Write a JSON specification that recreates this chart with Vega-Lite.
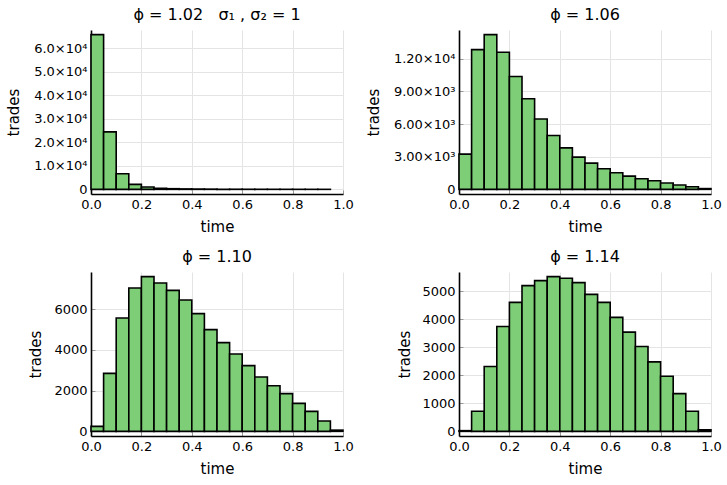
{
  "$schema": "https://vega.github.io/schema/vega-lite/v6.json",
  "autosize": "none",
  "padding": {"left": 91, "top": 30, "right": 636, "bottom": 455},
  "background": "white",
  "datasets": {
    "p1": [
      {"t0": 0.00, "t1": 0.05, "n": 65700},
      {"t0": 0.05, "t1": 0.10, "n": 24400},
      {"t0": 0.10, "t1": 0.15, "n": 6650},
      {"t0": 0.15, "t1": 0.20, "n": 2100},
      {"t0": 0.20, "t1": 0.25, "n": 980},
      {"t0": 0.25, "t1": 0.30, "n": 450},
      {"t0": 0.30, "t1": 0.35, "n": 280},
      {"t0": 0.35, "t1": 0.40, "n": 190},
      {"t0": 0.40, "t1": 0.45, "n": 140},
      {"t0": 0.45, "t1": 0.50, "n": 100},
      {"t0": 0.50, "t1": 0.55, "n": 75},
      {"t0": 0.55, "t1": 0.60, "n": 55},
      {"t0": 0.60, "t1": 0.65, "n": 42},
      {"t0": 0.65, "t1": 0.70, "n": 32},
      {"t0": 0.70, "t1": 0.75, "n": 24},
      {"t0": 0.75, "t1": 0.80, "n": 18},
      {"t0": 0.80, "t1": 0.85, "n": 13},
      {"t0": 0.85, "t1": 0.90, "n": 9},
      {"t0": 0.90, "t1": 0.95, "n": 6}
    ],
    "p2": [
      {"t0": 0.00, "t1": 0.05, "n": 3237},
      {"t0": 0.05, "t1": 0.10, "n": 12855},
      {"t0": 0.10, "t1": 0.15, "n": 14229},
      {"t0": 0.15, "t1": 0.20, "n": 12611},
      {"t0": 0.20, "t1": 0.25, "n": 10382},
      {"t0": 0.25, "t1": 0.30, "n": 8336},
      {"t0": 0.30, "t1": 0.35, "n": 6473},
      {"t0": 0.35, "t1": 0.40, "n": 4947},
      {"t0": 0.40, "t1": 0.45, "n": 3817},
      {"t0": 0.45, "t1": 0.50, "n": 2962},
      {"t0": 0.50, "t1": 0.55, "n": 2412},
      {"t0": 0.55, "t1": 0.60, "n": 1893},
      {"t0": 0.60, "t1": 0.65, "n": 1527},
      {"t0": 0.65, "t1": 0.70, "n": 1221},
      {"t0": 0.70, "t1": 0.75, "n": 977},
      {"t0": 0.75, "t1": 0.80, "n": 794},
      {"t0": 0.80, "t1": 0.85, "n": 580},
      {"t0": 0.85, "t1": 0.90, "n": 397},
      {"t0": 0.90, "t1": 0.95, "n": 244},
      {"t0": 0.95, "t1": 1.00, "n": 70}
    ],
    "p3": [
      {"t0": 0.00, "t1": 0.05, "n": 245},
      {"t0": 0.05, "t1": 0.10, "n": 2845},
      {"t0": 0.10, "t1": 0.15, "n": 5560},
      {"t0": 0.15, "t1": 0.20, "n": 7032},
      {"t0": 0.20, "t1": 0.25, "n": 7588},
      {"t0": 0.25, "t1": 0.30, "n": 7277},
      {"t0": 0.30, "t1": 0.35, "n": 6917},
      {"t0": 0.35, "t1": 0.40, "n": 6443},
      {"t0": 0.40, "t1": 0.45, "n": 5772},
      {"t0": 0.45, "t1": 0.50, "n": 4988},
      {"t0": 0.50, "t1": 0.55, "n": 4350},
      {"t0": 0.55, "t1": 0.60, "n": 3794},
      {"t0": 0.60, "t1": 0.65, "n": 3222},
      {"t0": 0.65, "t1": 0.70, "n": 2666},
      {"t0": 0.70, "t1": 0.75, "n": 2240},
      {"t0": 0.75, "t1": 0.80, "n": 1848},
      {"t0": 0.80, "t1": 0.85, "n": 1374},
      {"t0": 0.85, "t1": 0.90, "n": 981},
      {"t0": 0.90, "t1": 0.95, "n": 507},
      {"t0": 0.95, "t1": 1.00, "n": 60}
    ],
    "p4": [
      {"t0": 0.00, "t1": 0.05, "n": 25},
      {"t0": 0.05, "t1": 0.10, "n": 714},
      {"t0": 0.10, "t1": 0.15, "n": 2310},
      {"t0": 0.15, "t1": 0.20, "n": 3738},
      {"t0": 0.20, "t1": 0.25, "n": 4595},
      {"t0": 0.25, "t1": 0.30, "n": 5190},
      {"t0": 0.30, "t1": 0.35, "n": 5369},
      {"t0": 0.35, "t1": 0.40, "n": 5512},
      {"t0": 0.40, "t1": 0.45, "n": 5452},
      {"t0": 0.45, "t1": 0.50, "n": 5298},
      {"t0": 0.50, "t1": 0.55, "n": 4881},
      {"t0": 0.55, "t1": 0.60, "n": 4595},
      {"t0": 0.60, "t1": 0.65, "n": 4060},
      {"t0": 0.65, "t1": 0.70, "n": 3536},
      {"t0": 0.70, "t1": 0.75, "n": 3024},
      {"t0": 0.75, "t1": 0.80, "n": 2476},
      {"t0": 0.80, "t1": 0.85, "n": 1964},
      {"t0": 0.85, "t1": 0.90, "n": 1345},
      {"t0": 0.90, "t1": 0.95, "n": 714},
      {"t0": 0.95, "t1": 1.00, "n": 60}
    ]
  },
  "columns": 2,
  "bounds": "flush",
  "spacing": {"row": 78, "column": 116},
  "concat": [
    {
      "data": {"name": "p1"},
      "title": {"text": "ϕ = 1.02\u00a0\u00a0\u00a0σ₁ , σ₂ = 1"},
      "width": 252,
      "height": 164,
      "mark": {"type": "bar", "fill": "#7dce76", "stroke": "#000", "strokeWidth": 1.6},
      "encoding": {
        "x": {"field": "t0", "type": "quantitative", "scale": {"domain": [0, 1], "nice": false},
              "axis": {"values": [0, 0.2, 0.4, 0.6, 0.8, 1.0], "format": ".1f", "title": "time", "titleY": 32}},
        "x2": {"field": "t1"},
        "y": {"field": "n", "type": "quantitative", "scale": {"domain": [-1971, 67671], "nice": false, "zero": false},
              "axis": {"values": [0, 10000, 20000, 30000, 40000, 50000, 60000], "title": "trades", "titleX": -78,
                       "labelExpr": "datum.value == 0 ? '0' : format(datum.value / 10000, '.1f') + '×10⁴'"}},
        "y2": {"datum": 0}
      }
    },
    {
      "data": {"name": "p2"},
      "title": {"text": "ϕ = 1.06"},
      "width": 252,
      "height": 164,
      "mark": {"type": "bar", "fill": "#7dce76", "stroke": "#000", "strokeWidth": 1.6},
      "encoding": {
        "x": {"field": "t0", "type": "quantitative", "scale": {"domain": [0, 1], "nice": false},
              "axis": {"values": [0, 0.2, 0.4, 0.6, 0.8, 1.0], "format": ".1f", "title": "time", "titleY": 32}},
        "x2": {"field": "t1"},
        "y": {"field": "n", "type": "quantitative", "scale": {"domain": [-427, 14656], "nice": false, "zero": false},
              "axis": {"values": [0, 3000, 6000, 9000, 12000], "title": "trades", "titleX": -86,
                       "labelExpr": "datum.value == 0 ? '0' : (datum.value >= 10000 ? format(datum.value / 10000, '.2f') + '×10⁴' : format(datum.value / 1000, '.2f') + '×10³')"}},
        "y2": {"datum": 0}
      }
    },
    {
      "data": {"name": "p3"},
      "title": {"text": "ϕ = 1.10"},
      "width": 252,
      "height": 164,
      "mark": {"type": "bar", "fill": "#7dce76", "stroke": "#000", "strokeWidth": 1.6},
      "encoding": {
        "x": {"field": "t0", "type": "quantitative", "scale": {"domain": [0, 1], "nice": false},
              "axis": {"values": [0, 0.2, 0.4, 0.6, 0.8, 1.0], "format": ".1f", "title": "time", "titleY": 32}},
        "x2": {"field": "t1"},
        "y": {"field": "n", "type": "quantitative", "scale": {"domain": [-228, 7816], "nice": false, "zero": false},
              "axis": {"values": [0, 2000, 4000, 6000], "format": "d", "title": "trades", "titleX": -56}},
        "y2": {"datum": 0}
      }
    },
    {
      "data": {"name": "p4"},
      "title": {"text": "ϕ = 1.14"},
      "width": 252,
      "height": 164,
      "mark": {"type": "bar", "fill": "#7dce76", "stroke": "#000", "strokeWidth": 1.6},
      "encoding": {
        "x": {"field": "t0", "type": "quantitative", "scale": {"domain": [0, 1], "nice": false},
              "axis": {"values": [0, 0.2, 0.4, 0.6, 0.8, 1.0], "format": ".1f", "title": "time", "titleY": 32}},
        "x2": {"field": "t1"},
        "y": {"field": "n", "type": "quantitative", "scale": {"domain": [-165, 5677], "nice": false, "zero": false},
              "axis": {"values": [0, 1000, 2000, 3000, 4000, 5000], "format": "d", "title": "trades", "titleX": -55}},
        "y2": {"datum": 0}
      }
    }
  ],
  "config": {
    "view": {"stroke": null},
    "axis": {
      "domainColor": "#000",
      "domainWidth": 1.6,
      "gridColor": "#e4e4e4",
      "gridWidth": 1,
      "tickColor": "#999",
      "tickSize": -4,
      "labelFont": "DejaVu Sans",
      "labelFontSize": 13,
      "labelColor": "#000",
      "labelFlush": false,
      "labelOverlap": false,
      "labelPadding": 8,
      "titleFont": "DejaVu Sans",
      "titleFontSize": 15,
      "titleFontWeight": "normal",
      "titleColor": "#000"
    },
    "axisY": {"titleY": 82, "titleBaseline": "middle", "titleAlign": "center", "titleAngle": 270},
    "axisX": {"titleBaseline": "middle"},
    "title": {"font": "DejaVu Sans", "fontSize": 16, "fontWeight": "normal", "color": "#000", "baseline": "alphabetic", "offset": 7, "frame": "group"}
  }
}
